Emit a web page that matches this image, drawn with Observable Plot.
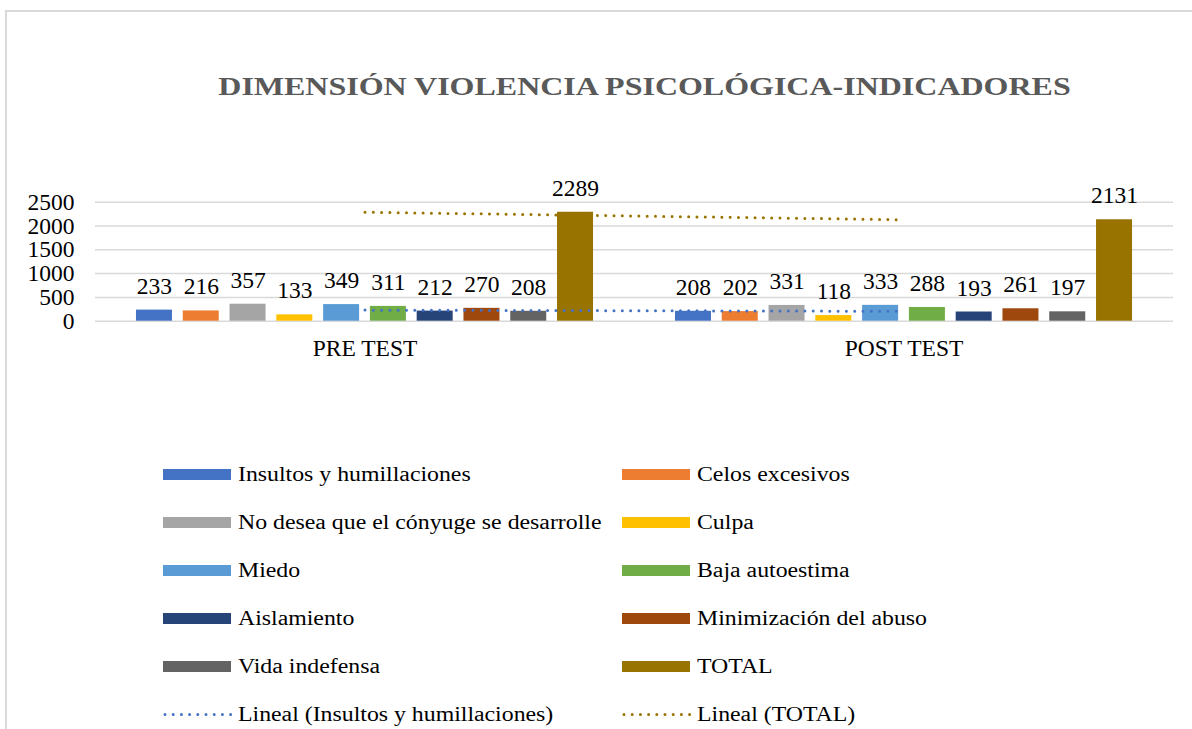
<!DOCTYPE html>
<html>
<head>
<meta charset="utf-8">
<script src="https://cdn.jsdelivr.net/npm/d3@7"></script>
<script src="https://cdn.jsdelivr.net/npm/@observablehq/plot@0.6"></script>
<style>
  body { margin: 0; background: #fff; }
  #wrap { position: relative; width: 1192px; height: 729px; overflow: hidden; background: #fff;
          font-family: "Liberation Serif", "Times New Roman", serif; color: #000; }
  #frame { position: absolute; left: 5px; top: 10px; width: 1400px; height: 900px;
           border: 2px solid #d9d9d9; box-sizing: border-box; }
  #title { position: absolute; left: 0; width: 1289px; top: 74px; text-align: center;
           font-size: 26px; line-height: 26px; font-weight: bold; color: #595959;
           transform: scaleX(1.23); transform-origin: center; white-space: nowrap; }
  #chart { position: absolute; left: 0; top: 150px; }
  .lg-swatch { position: absolute; width: 68px; height: 11px; }
  .lg-text { position: absolute; font-size: 20px; line-height: 20px; white-space: nowrap;
             transform: scaleX(1.19); transform-origin: left center; }
</style>
</head>
<body>
<div id="wrap">
  <div id="frame"></div>
  <div id="title">DIMENSIÓN VIOLENCIA PSICOLÓGICA-INDICADORES</div>
  <div id="chart"></div>
  <div id="legend"></div>
</div>
<script>
// ---- data ----
const groups = ["PRE TEST", "POST TEST"];
const indicators = [
  "Insultos y humillaciones",
  "Celos excesivos",
  "No desea que el cónyuge se desarrolle",
  "Culpa",
  "Miedo",
  "Baja autoestima",
  "Aislamiento",
  "Minimización del abuso",
  "Vida indefensa",
  "TOTAL"
];
const preValues  = [233, 216, 357, 133, 349, 311, 212, 270, 208, 2289];
const postValues = [208, 202, 331, 118, 333, 288, 193, 261, 197, 2131];
const colors = ["#4472C4", "#ED7D31", "#A5A5A5", "#FFC000", "#5B9BD5",
                "#70AD47", "#264478", "#9E480E", "#636363", "#997300"];
const yTicks = [0, 500, 1000, 1500, 2000, 2500];
const trendNames = ["Lineal (Insultos y humillaciones)", "Lineal (TOTAL)"];
const trendIndicators = ["Insultos y humillaciones", "TOTAL"];
const trendColors = ["#4472C4", "#997300"];

// ---- layout constants (in group units) ----
const STEP = 0.0868;   // distance between bar centres within a group
const BW = 0.0668;     // bar width

const seriesValues = [preValues, postValues];
const data = groups.flatMap((g, gi) => indicators.map((ind, i) => ({
  group: g,
  gx: gi + 1,
  indicator: ind,
  value: seriesValues[gi][i],
  xc: gi + 1 + (i - (indicators.length - 1) / 2) * STEP
})));

const dotted = {strokeWidth: 3, strokeDasharray: "0 8.3", strokeLinecap: "round"};

const chart = Plot.plot({
  width: 1192,
  height: 240,
  marginLeft: 95,
  marginRight: 19,
  marginTop: 51.7,
  marginBottom: 69.3,
  style: {fontFamily: "'Liberation Serif', 'Times New Roman', serif", fontSize: "23.5px",
          color: "#000", background: "transparent", overflow: "visible"},
  x: {domain: [0.5, 2.5]},
  y: {domain: [0, 2500]},
  color: {domain: indicators, range: colors},
  marks: [
    Plot.gridY(yTicks, {stroke: "#d9d9d9", strokeOpacity: 1, strokeWidth: 1.5}),
    Plot.axisY({ticks: yTicks, tickSize: 0, tickPadding: 21, label: null,
                tickFormat: d => String(d)}),
    Plot.axisX({ticks: [1, 2], tickSize: 0, tickPadding: 18, label: null,
                tickFormat: d => groups[d - 1]}),
    Plot.rect(data, {
      x1: d => d.xc - BW / 2,
      x2: d => d.xc + BW / 2,
      y1: 0,
      y2: "value",
      fill: "indicator"
    }),
    ...trendIndicators.map((ind, k) =>
      Plot.linearRegressionY(data.filter(d => d.indicator === ind), {
        x: "gx", y: "value", ci: 0, stroke: trendColors[k], ...dotted
      })
    ),
    Plot.text(data, {x: "xc", y: "value", text: d => String(d.value), dy: -24, fill: "#000"})
  ]
});
document.getElementById("chart").appendChild(chart);

// ---- legend (HTML) ----
const legend = document.getElementById("legend");
const legendItems = [
  ...indicators.map((name, i) => ({name, color: colors[i], line: false})),
  ...trendNames.map((name, i) => ({name, color: trendColors[i], line: true}))
];
legendItems.forEach((item, k) => {
  const row = Math.floor(k / 2), col = k % 2;
  const cy = 474 + row * 48;
  const swLeft = col === 0 ? 163 : 622;
  const txLeft = col === 0 ? 238 : 697;
  if (item.line) {
    const sw = document.createElementNS("http://www.w3.org/2000/svg", "svg");
    sw.setAttribute("width", 70);
    sw.setAttribute("height", 11);
    sw.style.position = "absolute";
    sw.style.left = swLeft + "px";
    sw.style.top = (cy - 5.5) + "px";
    const ln = document.createElementNS("http://www.w3.org/2000/svg", "line");
    ln.setAttribute("x1", 2); ln.setAttribute("x2", 68);
    ln.setAttribute("y1", 5.5); ln.setAttribute("y2", 5.5);
    ln.setAttribute("stroke", item.color);
    ln.setAttribute("stroke-width", 3);
    ln.setAttribute("stroke-dasharray", "0 8.2");
    ln.setAttribute("stroke-linecap", "round");
    sw.appendChild(ln);
    legend.appendChild(sw);
  } else {
    const sw = document.createElement("div");
    sw.className = "lg-swatch";
    sw.style.left = swLeft + "px";
    sw.style.top = (cy - 5.5) + "px";
    sw.style.background = item.color;
    legend.appendChild(sw);
  }
  const tx = document.createElement("div");
  tx.className = "lg-text";
  tx.style.left = txLeft + "px";
  tx.style.top = (cy - 10) + "px";
  tx.textContent = item.name;
  legend.appendChild(tx);
});
</script>
</body>
</html>
